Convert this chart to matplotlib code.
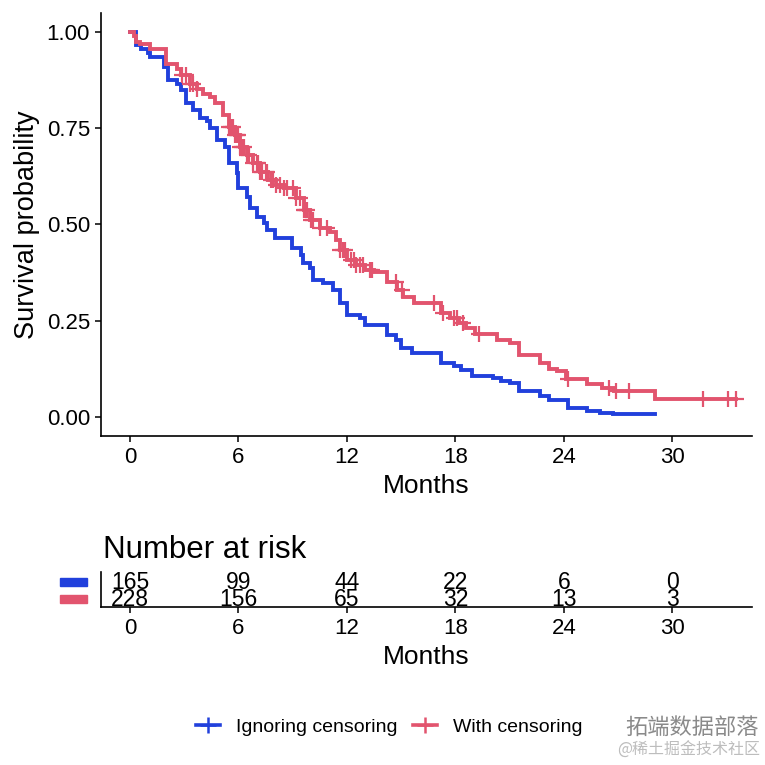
import matplotlib
matplotlib.use("Agg")
import matplotlib.pyplot as plt
import numpy as np
from matplotlib.lines import Line2D
from matplotlib.patches import Rectangle
import matplotlib.transforms as mtransforms

plt.rcParams['font.family'] = ['Liberation Sans', 'DejaVu Sans']

# ---------------- data ----------------
series_names = ["Ignoring censoring", "With censoring"]
colors = ["#2140DC", "#E2546E"]

blue_times = [0, 0.35, 0.6, 1.0, 1.1, 1.9, 2.1, 2.6, 2.8, 3.1, 3.5, 3.85, 4.25, 4.45, 4.8,
              5.25, 5.5, 5.9, 6.0, 6.45, 6.65, 7.0, 7.4, 7.6, 8.0, 8.95, 9.45, 9.55, 9.95,
              10.1, 10.7, 11.25, 11.6, 12.0, 12.7, 13.0, 14.2, 14.7, 15.0, 15.6, 17.2,
              17.9, 18.3, 18.9, 20.1, 20.5, 21.0, 21.5, 22.7, 23.2, 24.2, 25.3, 26.0, 26.7, 29.05]
blue_surv = [1.0, 0.966, 0.957, 0.945, 0.936, 0.91, 0.875, 0.866, 0.849, 0.815, 0.797, 0.776,
             0.768, 0.75, 0.719, 0.702, 0.659, 0.633, 0.594, 0.572, 0.542, 0.52, 0.503, 0.486,
             0.464, 0.438, 0.42, 0.399, 0.386, 0.356, 0.347, 0.33, 0.295, 0.265, 0.256, 0.239,
             0.213, 0.2, 0.178, 0.165, 0.139, 0.131, 0.122, 0.105, 0.1, 0.092, 0.087, 0.066,
             0.053, 0.044, 0.024, 0.016, 0.011, 0.006, 0.006]

red_times = [0, 0.2, 0.35, 0.55, 1.1, 2.0, 2.6, 2.85, 3.3, 3.7, 4.05, 4.45, 4.7, 5.15, 5.5,
             5.8, 6.1, 6.45, 6.8, 7.2, 7.65, 8.1, 8.5, 9.2, 9.6, 9.95, 10.5, 11.05, 11.4,
             11.6, 12.0, 12.5, 13.0, 13.5, 14.2, 14.75, 15.1, 15.7, 17.2, 17.7, 18.2, 18.6,
             19.1, 20.3, 21.0, 21.5, 22.7, 23.15, 23.6, 24.1, 25.3, 26.1, 26.75, 29.05, 33.5]
red_surv = [1.0, 0.99, 0.975, 0.97, 0.957, 0.918, 0.905, 0.888, 0.866, 0.853, 0.84, 0.832,
            0.815, 0.784, 0.754, 0.732, 0.702, 0.681, 0.659, 0.637, 0.616, 0.603, 0.594,
            0.568, 0.538, 0.512, 0.49, 0.481, 0.46, 0.434, 0.408, 0.395, 0.382, 0.377,
            0.351, 0.33, 0.312, 0.295, 0.269, 0.256, 0.243, 0.23, 0.216, 0.2, 0.193, 0.161,
            0.141, 0.124, 0.118, 0.098, 0.086, 0.075, 0.068, 0.047, 0.047]

red_censor_times = [2.9, 3.1, 3.3, 3.5, 3.7, 5.5, 5.6, 5.7, 5.8, 5.9, 6.0, 6.1, 6.2, 6.3, 6.5,
                    6.6, 6.8, 7.0, 7.1, 7.2, 7.3, 7.5, 7.6, 7.8, 7.9, 8.1, 8.3, 8.5, 8.7, 9.0,
                    9.2, 9.4, 9.6, 9.7, 9.8, 10.0, 10.1, 10.5, 10.9, 11.6, 11.8, 11.9, 12.2,
                    12.4, 12.5, 12.7, 12.9, 13.3, 13.4, 14.7, 15.05, 16.8, 17.3, 17.9, 18.1,
                    18.4, 19.3, 24.2, 26.5, 26.9, 27.6, 31.7, 33.1, 33.5]

x_ticks = [0, 6, 12, 18, 24, 30]
y_ticks = [0.0, 0.25, 0.5, 0.75, 1.0]
y_ticklabels = ["0.00", "0.25", "0.50", "0.75", "1.00"]
risk_blue = [165, 99, 44, 22, 6, 0]
risk_red = [228, 156, 65, 32, 13, 3]

# ---------------- figure ----------------
W = H = 765
fig = plt.figure(figsize=(7.65, 7.65), dpi=100)


def px_axes(left, top, right, bottom):
    return fig.add_axes([left / W, 1 - bottom / H, (right - left) / W, (bottom - top) / H])


ax = px_axes(101, 13, 752, 436)
lw = 2.8
ax.step(blue_times, blue_surv, where='post', color=colors[0], lw=lw, solid_joinstyle='miter')
ax.step(red_times, red_surv, where='post', color=colors[1], lw=lw, solid_joinstyle='miter')

rt = np.array(red_times)
rs = np.array(red_surv)
cens_y = [rs[np.searchsorted(rt, t, side='right') - 1] for t in red_censor_times]
ax.plot(red_censor_times, cens_y, ls='none', marker='+', ms=11, mew=1.6, color=colors[1])

ax.set_xlim(-1.6, 34.4)
ax.set_ylim(-0.05, 1.05)
ax.set_xticks(x_ticks)
ax.set_xticklabels([str(v) for v in x_ticks])
ax.set_yticks(y_ticks)
ax.set_yticklabels(y_ticklabels)
ax.set_xlabel("Months", fontsize=19, labelpad=4)
ax.set_ylabel("Survival probability", fontsize=19.5, labelpad=5)
for s in ['top', 'right']:
    ax.spines[s].set_visible(False)
for s in ['left', 'bottom']:
    ax.spines[s].set_linewidth(1.2)
ax.tick_params(axis='both', labelsize=16, length=4, width=1.1, colors='black', pad=4)

# ---------------- risk table ----------------
at = px_axes(101, 572, 752, 607)
at.set_xlim(-1.6, 34.4)
at.set_ylim(0.53, 2.59)
for x, n in zip(x_ticks, risk_blue):
    at.text(x, 2, str(n), ha='center', va='center', fontsize=16.5)
for x, n in zip(x_ticks, risk_red):
    at.text(x, 1, str(n), ha='center', va='center', fontsize=16.5)
at.set_xticks(x_ticks)
at.set_xticklabels([str(v) for v in x_ticks])
at.set_yticks([])
at.set_xlabel("Months", fontsize=19, labelpad=4)
for s in ['top', 'right']:
    at.spines[s].set_visible(False)
for s in ['left', 'bottom']:
    at.spines[s].set_linewidth(1.2)
at.tick_params(axis='x', labelsize=16, length=4, width=1.1, pad=4)
trans = mtransforms.blended_transform_factory(at.transAxes, at.transData)
for yrow, c in zip([2, 1], colors):
    at.add_patch(Rectangle((-0.063, yrow - 0.25), 0.0415, 0.5, transform=trans,
                           color=c, clip_on=False))
at.text(0.003, 3.9, "Number at risk", transform=trans, fontsize=22.5, ha='left', va='center')

# ---------------- legend ----------------
handles = [Line2D([], [], color=c, lw=2.6, marker='+', ms=12, mew=1.8) for c in colors]
fig.legend(handles, series_names, loc='center', bbox_to_anchor=(389 / W, 1 - 727 / H),
           ncol=2, frameon=False, fontsize=14, handlelength=1.25, columnspacing=0.8,
           handletextpad=0.8)

# watermark
fig.text(625 / W, 1 - 727 / H, "拓端数据部落", fontsize=16, color='#8a8a8a', va='center',
         ha='left', family=['Noto Sans CJK SC', 'DejaVu Sans'])
fig.text(760 / W, 1 - 750 / H, "@稀土掘金技术社区", fontsize=11.5, color='#bdbdbd',
         va='center', ha='right', family=['Noto Sans CJK SC', 'DejaVu Sans'])

fig.savefig("out.png", dpi=100)
